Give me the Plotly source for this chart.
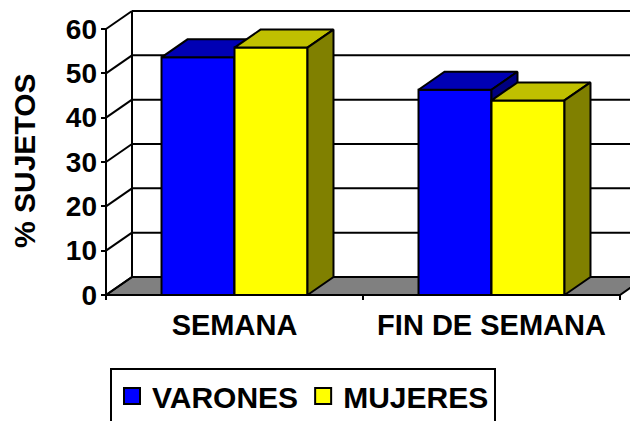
import plotly.graph_objects as go

# ---- data ----
categories = ["SEMANA", "FIN DE SEMANA"]
series_names = ["VARONES", "MUJERES"]
varones = [53.6, 46.3]
mujeres = [55.8, 43.9]
y_tick_values = [0, 10, 20, 30, 40, 50, 60]

# ---- styles ----
front_colors = ["#0000FF", "#FFFF00"]
top_colors = ["#0000B4", "#C0C000"]
side_colors = ["#000080", "#808000"]
floor_color = "#808080"
FONT = "Liberation Sans, Arial, sans-serif"

PX_X = 257.0          # pixels per category
PX_Y = 4.433          # pixels per unit
DX = 26.0 / PX_X      # depth offset (x, category units)
DY = 18.0 / PX_Y      # depth offset (y, value units)
BW = 0.284            # bar width (category units)
YMAX = y_tick_values[-1]

x_lo = -0.5 - 5.0 / PX_X
x_hi = len(categories) - 0.5 + 18.0 / PX_X
y_lo = -5.0 / PX_Y
y_hi = YMAX + 21.0 / PX_Y

fig = go.Figure()

# ---- 3D bars drawn as faces ----
series = [varones, mujeres]
n_series = len(series)
for c in range(len(categories)):
    for s in range(n_series):
        v = series[s][c]
        x0 = c - BW * n_series / 2 + s * BW
        x1 = x0 + BW
        # front face
        fig.add_trace(go.Scatter(
            x=[x0, x1, x1, x0, x0], y=[0, 0, v, v, 0],
            mode="lines", fill="toself", fillcolor=front_colors[s],
            line=dict(color="black", width=2), showlegend=False, hoverinfo="skip"))
        # top face
        fig.add_trace(go.Scatter(
            x=[x0, x1, x1 + DX, x0 + DX, x0], y=[v, v, v + DY, v + DY, v],
            mode="lines", fill="toself", fillcolor=top_colors[s],
            line=dict(color="black", width=2), showlegend=False, hoverinfo="skip"))
        # side face
        fig.add_trace(go.Scatter(
            x=[x1, x1 + DX, x1 + DX, x1, x1], y=[0, DY, v + DY, v, 0],
            mode="lines", fill="toself", fillcolor=side_colors[s],
            line=dict(color="black", width=2), showlegend=False, hoverinfo="skip"))

# ---- legend entries ----
for s in range(n_series):
    fig.add_trace(go.Scatter(
        x=[None], y=[None], mode="markers", name=series_names[s],
        marker=dict(symbol="square", size=16, color=front_colors[s],
                    line=dict(color="black", width=2))))

# ---- walls, floor, gridlines ----
shapes = []
xl = -0.5
xr = len(categories) - 0.5
# floor
shapes.append(dict(type="path", xref="x", yref="y", layer="below",
                   path=f"M{xl},0 L{xr},0 L{xr + DX},{DY} L{xl + DX},{DY} Z",
                   fillcolor=floor_color, line=dict(color="black", width=2)))
# back wall gridlines and left wall diagonals
for v in y_tick_values:
    shapes.append(dict(type="line", xref="x", yref="y", layer="below",
                       x0=xl + DX, x1=x_hi + 1, y0=v + DY, y1=v + DY,
                       line=dict(color="black", width=2)))
    shapes.append(dict(type="line", xref="x", yref="y", layer="below",
                       x0=xl, x1=xl + DX, y0=v, y1=v + DY,
                       line=dict(color="black", width=2)))
# back wall left edge
shapes.append(dict(type="line", xref="x", yref="y", layer="below",
                   x0=xl + DX, x1=xl + DX, y0=DY, y1=YMAX + DY,
                   line=dict(color="black", width=2)))
# front vertical axis line
shapes.append(dict(type="line", xref="x", yref="y", layer="below",
                   x0=xl, x1=xl, y0=0, y1=YMAX,
                   line=dict(color="black", width=2)))

# the page body adds an 8px offset; margins compensate for it
fig.update_layout(
    width=638, height=421, autosize=False,
    margin=dict(l=93, r=8, t=0, b=129, pad=0, autoexpand=False),
    paper_bgcolor="white", plot_bgcolor="white",
    font=dict(family=FONT, color="black"),
    shapes=shapes,
    showlegend=True,
    legend=dict(orientation="h", x=9 / 537, y=(300 - 368) / 292,
                xanchor="left", yanchor="top",
                bordercolor="black", borderwidth=2, bgcolor="white",
                font=dict(family=FONT, size=30, color="black", weight="bold"),
                itemsizing="trace", tracegroupgap=0),
    annotations=[dict(text="<b>% SUJETOS</b>", textangle=-90,
                      xref="paper", yref="paper",
                      x=(24 - 101) / 537, y=(300 - 161) / 292,
                      xanchor="center", yanchor="middle", showarrow=False,
                      font=dict(family=FONT, size=30, color="black"))],
)

fig.update_xaxes(
    range=[x_lo, x_hi], showgrid=False, zeroline=False, showline=False,
    automargin=False,
    tickmode="array", tickvals=list(range(len(categories))), ticktext=categories,
    ticks="", tickfont=dict(family=FONT, size=29, color="black", weight="bold"),
    ticklabelstandoff=5,
    minor=dict(tickmode="array", tickvals=[i - 0.5 for i in range(len(categories) + 1)],
               ticks="inside", ticklen=5, tickwidth=2, tickcolor="black", showgrid=False),
    fixedrange=True,
)
fig.update_yaxes(
    range=[y_lo, y_hi], showgrid=False, zeroline=False, showline=False,
    automargin=False,
    tickmode="array", tickvals=y_tick_values,
    ticks="inside", ticklen=5, tickwidth=2, tickcolor="black",
    tickfont=dict(family=FONT, size=28, color="black", weight="bold"),
    ticklabelstandoff=3,
    fixedrange=True,
)

fig.write_html("out.html")
